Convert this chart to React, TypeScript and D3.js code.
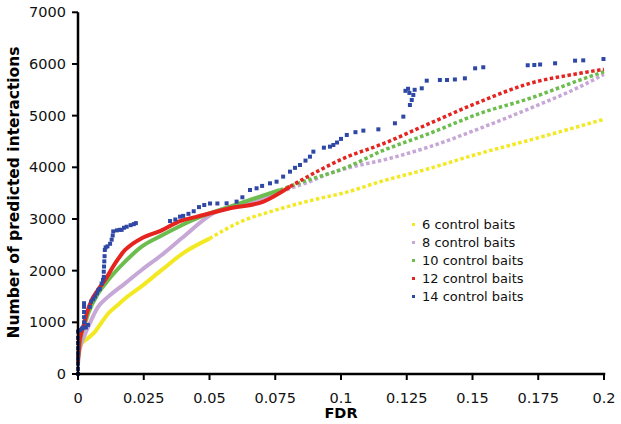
import React from "react";
import * as d3 from "d3";

const W = 621;
const H = 424;

const xTicks = [0, 0.025, 0.05, 0.075, 0.1, 0.125, 0.15, 0.175, 0.2];
const xTickLabels = ["0", "0.025", "0.05", "0.075", "0.1", "0.125", "0.15", "0.175", "0.2"];
const yTicks = [0, 1000, 2000, 3000, 4000, 5000, 6000, 7000];

const seriesNames = ["6 control baits", "8 control baits", "10 control baits", "12 control baits", "14 control baits"];
const seriesColors = ["#f3e923", "#c6a7d6", "#6cbd4e", "#e5231f", "#2f47a5"];

const yellow6: [number, number][] = [
  [0, 400], [0.0014, 590], [0.004, 700], [0.0065, 820], [0.009, 1000], [0.0115, 1170], [0.015, 1330],
  [0.018, 1465], [0.024, 1690], [0.032, 2020], [0.04, 2340], [0.05, 2620], [0.062, 2950], [0.075, 3170],
  [0.0895, 3370], [0.1022, 3520], [0.1148, 3720], [0.1338, 3980], [0.1529, 4271], [0.1719, 4529], [0.2, 4930],
];
const lilac8: [number, number][] = [
  [0, 300], [0.001, 550], [0.0025, 750], [0.0039, 915], [0.0077, 1303], [0.0115, 1497], [0.0179, 1755],
  [0.0242, 2013], [0.0318, 2303], [0.0394, 2626], [0.0514, 3110], [0.063, 3300], [0.075, 3480], [0.08, 3580],
  [0.088, 3720], [0.0958, 3884], [0.1022, 3981], [0.1186, 4174], [0.1338, 4400], [0.1529, 4755], [0.1719, 5142],
  [0.1909, 5561], [0.2, 5800],
];
const green10: [number, number][] = [
  [0, 300], [0.001, 700], [0.0025, 950], [0.0039, 1174], [0.0077, 1562], [0.0115, 1819], [0.0179, 2174],
  [0.0242, 2464], [0.0318, 2680], [0.0394, 2880], [0.046, 3030], [0.0578, 3239], [0.0768, 3561], [0.0895, 3787],
  [0.0958, 3884], [0.1022, 4000], [0.1148, 4300], [0.1338, 4658], [0.1529, 5045], [0.1719, 5336], [0.1909, 5690],
  [0.2, 5851],
];
const red12: [number, number][] = [
  [0, 200], [0.0005, 600], [0.001, 750], [0.002, 915], [0.0035, 1200], [0.0052, 1430], [0.0075, 1620],
  [0.0103, 1820], [0.0141, 2140], [0.0179, 2400], [0.021, 2530], [0.0242, 2626], [0.0318, 2780], [0.0388, 2960],
  [0.045, 3040], [0.0578, 3207], [0.0705, 3336], [0.0806, 3626], [0.092, 3948], [0.1022, 4200], [0.1148, 4432],
  [0.1338, 4852], [0.1529, 5271], [0.1719, 5626], [0.1909, 5820], [0.2, 5897],
];
const blue14: [number, number][] = [
  [0, 0], [0, 100], [0, 200], [0, 300], [0, 400], [0, 500], [0, 600], [0, 700], [0, 820],
  [0.0008, 850], [0.0015, 880], [0.002, 900], [0.0023, 1000], [0.0023, 1100], [0.0023, 1200], [0.0023, 1300],
  [0.0023, 1370], [0.003, 900], [0.0038, 950], [0.0045, 1300], [0.005, 1400], [0.0058, 1450], [0.0065, 1500],
  [0.0072, 1560], [0.0077, 1620], [0.0083, 1650], [0.009, 1750], [0.0095, 1820], [0.0098, 1880], [0.0098, 1980],
  [0.0099, 2080], [0.01, 2180], [0.0101, 2280], [0.0102, 2400], [0.0105, 2450], [0.0112, 2470], [0.0122, 2520],
  [0.0128, 2600], [0.0132, 2680], [0.0134, 2760], [0.0148, 2780], [0.0158, 2790], [0.0166, 2790], [0.0175, 2830],
  [0.0185, 2850], [0.02, 2880], [0.0212, 2900], [0.022, 2920],
  [0.035, 2960], [0.037, 2990], [0.0388, 3045], [0.04, 3060], [0.042, 3100], [0.044, 3150], [0.046, 3230],
  [0.048, 3270], [0.0502, 3300], [0.053, 3300], [0.0565, 3303], [0.0603, 3336], [0.0625, 3420], [0.0654, 3561],
  [0.0679, 3594], [0.07, 3640], [0.073, 3690], [0.0755, 3722], [0.078, 3820], [0.0806, 3916], [0.0825, 3990],
  [0.0844, 4045], [0.0865, 4130], [0.0882, 4206], [0.0895, 4303], [0.0935, 4380], [0.0958, 4400], [0.0971, 4432],
  [0.0985, 4480], [0.1, 4550], [0.1022, 4626], [0.1055, 4680], [0.1085, 4710], [0.1142, 4735], [0.1205, 4852],
  [0.1237, 4981], [0.1262, 5206], [0.1269, 5303], [0.1245, 5480], [0.1255, 5520], [0.126, 5440], [0.1275, 5400],
  [0.128, 5500], [0.1307, 5529], [0.1326, 5677], [0.1376, 5690], [0.1403, 5690], [0.1433, 5700], [0.1471, 5722],
  [0.151, 5916], [0.1541, 5936], [0.171, 5975], [0.1735, 5980], [0.1757, 5990], [0.1814, 6013], [0.189, 6064],
  [0.1921, 6070], [0.1998, 6096],
];

const lineSeries = [yellow6, lilac8, green10, red12];
const solidCutoffs = [0.06, 0.075, 0.08, 0.09];

const FONT = "'DejaVu Sans', Verdana, sans-serif";

export default function App() {
  const x = d3.scaleLinear().domain([0, 0.2]).range([78, 604]);
  const y = d3.scaleLinear().domain([0, 7000]).range([374, 12.3]);
  const line = d3
    .line<[number, number]>()
    .x((d) => x(d[0]))
    .y((d) => y(d[1]))
    .curve(d3.curveMonotoneX);

  return (
    <svg width={W} height={H} style={{ position: "absolute", left: 0, top: 0, background: "#fff" }}>
      <rect x={0} y={0} width={W} height={H} fill="#fff" />
      {lineSeries.map((data, i) => {
        const cut = solidCutoffs[i];
        const solid = data.filter((d) => d[0] <= cut);
        const nextIdx = data.findIndex((d) => d[0] > cut);
        const dotted = data.slice(Math.max(0, nextIdx - 1));
        return (
          <g key={i}>
            <path d={line(solid) || ""} fill="none" stroke={seriesColors[i]} strokeWidth={4} strokeLinejoin="round" />
            <path d={line(dotted) || ""} fill="none" stroke={seriesColors[i]} strokeWidth={3.5} strokeDasharray="3.5 2.5" />
          </g>
        );
      })}
      {blue14.map((d, i) => (
        <rect key={i} x={x(d[0]) - 2} y={y(d[1]) - 2} width={4} height={4} fill={seriesColors[4]} />
      ))}
      {/* axes */}
      <line x1={x(0)} x2={x(0)} y1={y(7000)} y2={y(0)} stroke="#000" strokeWidth={2.5} />
      <line x1={x(0) - 1.25} x2={x(0.2) + 1.25} y1={y(0)} y2={y(0)} stroke="#000" strokeWidth={2.5} />
      {yTicks.map((t) => (
        <g key={t}>
          <line x1={x(0) - 6} x2={x(0)} y1={y(t)} y2={y(t)} stroke="#000" strokeWidth={2} />
          <text x={66} y={y(t) + 5} textAnchor="end" fontFamily={FONT} fontSize={14.5} fill="#111">
            {t}
          </text>
        </g>
      ))}
      {xTicks.map((t, i) => (
        <g key={t}>
          <line x1={x(t)} x2={x(t)} y1={y(0)} y2={y(0) + 6} stroke="#000" strokeWidth={2} />
          <text x={x(t)} y={403} textAnchor="middle" fontFamily={FONT} fontSize={14.5} fill="#111">
            {xTickLabels[i]}
          </text>
        </g>
      ))}
      <text
        transform={`translate(18.5,192.5) rotate(-90)`}
        textAnchor="middle"
        fontFamily={FONT}
        fontWeight="bold"
        fontSize={15.5}
        fill="#000"
      >
        Number of predicted interactions
      </text>
      <text x={341} y={418} textAnchor="middle" fontFamily={FONT} fontWeight="bold" fontSize={14.5} fill="#000">
        FDR
      </text>
      {/* legend */}
      {seriesNames.map((name, i) => (
        <g key={name}>
          <rect x={412} y={229 + i * 18 - 6} width={3} height={3} fill={seriesColors[i]} />
          <text x={422} y={229 + i * 18} fontFamily={FONT} fontSize={13} fill="#111">
            {name}
          </text>
        </g>
      ))}
    </svg>
  );
}
